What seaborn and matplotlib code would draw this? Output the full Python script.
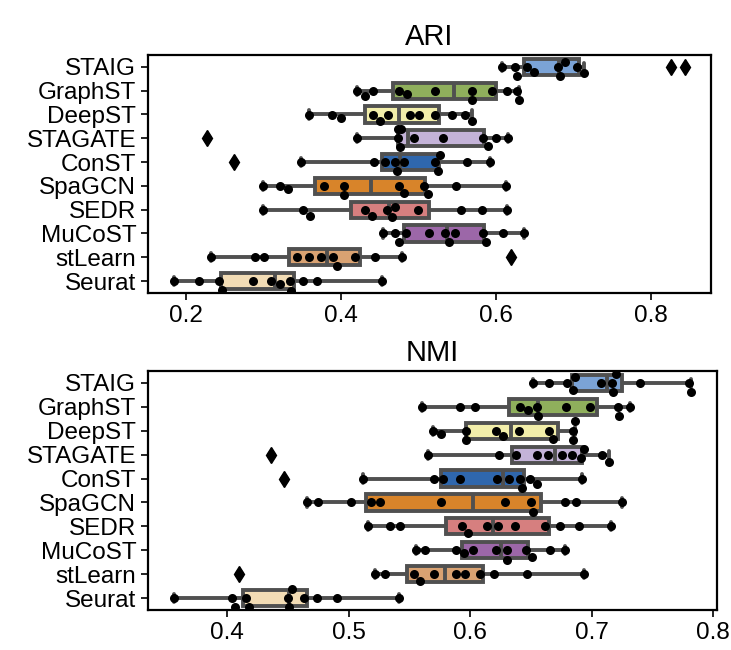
import numpy as np
import pandas as pd
import matplotlib
matplotlib.use("Agg")
import matplotlib.pyplot as plt
import seaborn as sns

methods = ["STAIG", "GraphST", "DeepST", "STAGATE", "ConST",
           "SpaGCN", "SEDR", "MuCoST", "stLearn", "Seurat"]
colores = ["#7ba3d6", "#8faf5c", "#f2eeaa", "#c4b3d8", "#2f67ad",
           "#d8842a", "#d67f7f", "#9c67a8", "#d9a272", "#f2dcb5"]

# ARI por metodo (12 cortes)
ari_STAIG = [0.608, 0.625, 0.627, 0.640, 0.650, 0.680, 0.683, 0.690, 0.705, 0.714, 0.826, 0.845]
ari_GraphST = [0.421, 0.431, 0.442, 0.475, 0.486, 0.522, 0.569, 0.570, 0.595, 0.615, 0.627, 0.630]
ari_DeepST = [0.359, 0.389, 0.400, 0.442, 0.451, 0.461, 0.489, 0.501, 0.521, 0.543, 0.560, 0.569]
ari_STAGATE = [0.227, 0.421, 0.474, 0.474, 0.477, 0.478, 0.495, 0.532, 0.583, 0.590, 0.601, 0.616]
ari_ConST = [0.262, 0.348, 0.443, 0.457, 0.470, 0.472, 0.482, 0.521, 0.526, 0.528, 0.563, 0.593]
ari_SpaGCN = [0.300, 0.321, 0.332, 0.378, 0.404, 0.404, 0.475, 0.482, 0.508, 0.513, 0.549, 0.613]
ari_SEDR = [0.300, 0.351, 0.360, 0.431, 0.440, 0.459, 0.466, 0.470, 0.500, 0.555, 0.582, 0.615]
ari_MuCoST = [0.455, 0.470, 0.475, 0.484, 0.514, 0.534, 0.540, 0.547, 0.583, 0.588, 0.609, 0.637]
ari_stLearn = [0.232, 0.289, 0.301, 0.344, 0.359, 0.375, 0.390, 0.395, 0.418, 0.444, 0.479, 0.620]
ari_Seurat = [0.184, 0.217, 0.243, 0.246, 0.287, 0.310, 0.321, 0.334, 0.335, 0.351, 0.369, 0.453]

# NMI por metodo
nmi_STAIG = [0.652, 0.665, 0.680, 0.685, 0.686, 0.708, 0.717, 0.718, 0.720, 0.740, 0.780, 0.782]
nmi_GraphST = [0.560, 0.592, 0.604, 0.641, 0.648, 0.655, 0.656, 0.679, 0.699, 0.722, 0.723, 0.732]
nmi_DeepST = [0.569, 0.576, 0.597, 0.597, 0.621, 0.627, 0.640, 0.665, 0.668, 0.685, 0.685, 0.686]
nmi_STAGATE = [0.436, 0.565, 0.624, 0.638, 0.655, 0.664, 0.676, 0.684, 0.691, 0.694, 0.709, 0.714]
nmi_ConST = [0.447, 0.512, 0.570, 0.578, 0.592, 0.622, 0.632, 0.641, 0.643, 0.649, 0.655, 0.692]
nmi_SpaGCN = [0.466, 0.475, 0.502, 0.518, 0.526, 0.576, 0.629, 0.650, 0.652, 0.678, 0.687, 0.725]
nmi_SEDR = [0.516, 0.534, 0.542, 0.593, 0.598, 0.614, 0.623, 0.637, 0.662, 0.674, 0.690, 0.716]
nmi_MuCoST = [0.555, 0.563, 0.588, 0.595, 0.602, 0.621, 0.630, 0.630, 0.646, 0.651, 0.666, 0.678]
nmi_stLearn = [0.410, 0.522, 0.530, 0.554, 0.559, 0.570, 0.588, 0.596, 0.608, 0.620, 0.647, 0.694]
nmi_Seurat = [0.356, 0.404, 0.406, 0.415, 0.418, 0.450, 0.451, 0.453, 0.463, 0.474, 0.490, 0.541]

ari_ticks = [0.2, 0.4, 0.6, 0.8]
nmi_ticks = [0.4, 0.5, 0.6, 0.7, 0.8]

ari_vals = [ari_STAIG, ari_GraphST, ari_DeepST, ari_STAGATE, ari_ConST,
            ari_SpaGCN, ari_SEDR, ari_MuCoST, ari_stLearn, ari_Seurat]
nmi_vals = [nmi_STAIG, nmi_GraphST, nmi_DeepST, nmi_STAGATE, nmi_ConST,
            nmi_SpaGCN, nmi_SEDR, nmi_MuCoST, nmi_stLearn, nmi_Seurat]


def armar_df(valores):
    filas = []
    for m, vs in zip(methods, valores):
        for v in vs:
            filas.append({"method": m, "score": v})
    return pd.DataFrame(filas)


df_ari = armar_df(ari_vals)
df_nmi = armar_df(nmi_vals)

sns.set_style("ticks")
plt.rcParams["font.family"] = ["Liberation Sans", "DejaVu Sans"]

fig = plt.figure(figsize=(7.31, 6.5), dpi=100)
ax1 = fig.add_axes([148/731, 1-293/650, 563/731, 238/650])
ax2 = fig.add_axes([148/731, 1-610/650, 569/731, 239/650])

pal = dict(zip(methods, colores))

for ax, df, titulo, ticks in [(ax1, df_ari, "ARI", ari_ticks),
                              (ax2, df_nmi, "NMI", nmi_ticks)]:
    sns.boxplot(data=df, x="score", y="method", hue="method", order=methods,
                palette=pal, saturation=1, width=0.68, linewidth=2.8,
                linecolor="#505050", legend=False, ax=ax,
                flierprops=dict(marker="d", markerfacecolor="black",
                                markeredgecolor="black", markersize=8))
    sns.swarmplot(data=df, x="score", y="method", order=methods,
                  color="black", size=6.5, ax=ax)
    ax.set_title(titulo, fontsize=21, pad=7, color="black")
    ax.set_xlabel("")
    ax.set_ylabel("")
    ax.set_xticks(ticks)
    ax.set_xticklabels([f"{t:.1f}" for t in ticks])
    ax.tick_params(axis="both", labelsize=17.5, length=5, width=1.2, colors="black")
    for s in ax.spines.values():
        s.set_linewidth(1.6)
        s.set_color("black")

fig.savefig("out.png", dpi=100)
